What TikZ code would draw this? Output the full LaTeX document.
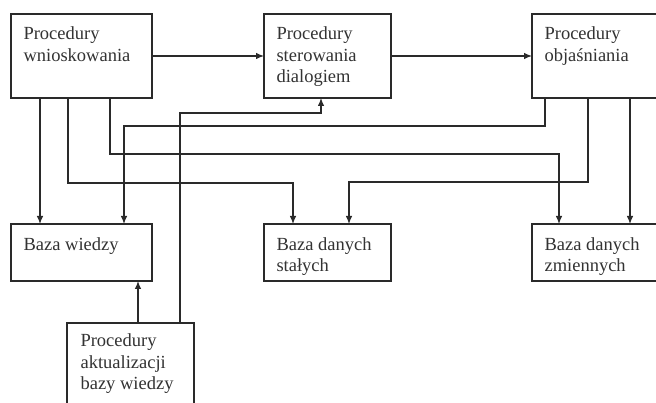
\documentclass[tikz,border=0pt]{standalone}
\usepackage{fontspec}
\setmainfont{Liberation Serif}
\usetikzlibrary{arrows.meta}
\definecolor{ink}{HTML}{2A2A2A}
\definecolor{txt}{HTML}{333333}
\begin{document}
\begin{tikzpicture}[x=1pt,y=-1pt,
  line width=1.1pt, draw=ink,
  boxnode/.style={draw=ink, rectangle, anchor=north west, inner sep=0pt, outer sep=0pt},
  lbl/.style={anchor=north west, inner sep=0pt, align=left, text=txt,
    font=\fontsize{18.5}{21.5}\selectfont},
  arr/.style={draw=ink, -{Latex[length=8pt,width=6.5pt]}}]
\useasboundingbox (0,0) rectangle (656,403);
\clip (0,0) rectangle (656,403);
\fill[white] (0,0) rectangle (656,403);
% boxes
\node[boxnode, minimum width=141pt, minimum height=84pt] (b1) at (11,14) {};
\node[boxnode, minimum width=127pt, minimum height=84pt] (b2) at (264,14) {};
\node[boxnode, minimum width=141pt, minimum height=84pt] (b3) at (532,14) {};
\node[boxnode, minimum width=141pt, minimum height=57pt] (b4) at (11,224) {};
\node[boxnode, minimum width=127pt, minimum height=57pt] (b5) at (264,224) {};
\node[boxnode, minimum width=141pt, minimum height=57pt] (b6) at (532,224) {};
\node[boxnode, minimum width=127pt, minimum height=84pt] (b7) at (67,323) {};
% labels
\node[lbl] (t1) at ([xshift=12pt,yshift=-12.5pt]b1.north west) {Procedury\\wnioskowania};
\node[lbl] (t2) at ([xshift=12pt,yshift=-12.5pt]b2.north west) {Procedury\\sterowania\\dialogiem};
\node[lbl] (t3) at ([xshift=12pt,yshift=-12.5pt]b3.north west) {Procedury\\objaśniania};
\node[lbl] (t4) at ([xshift=12pt,yshift=-13pt]b4.north west) {Baza wiedzy};
\node[lbl] (t5) at ([xshift=12pt,yshift=-13pt]b5.north west) {Baza danych\\stałych};
\node[lbl] (t6) at ([xshift=12pt,yshift=-13pt]b6.north west) {Baza danych\\zmiennych};
\node[lbl] (t7) at ([xshift=13pt,yshift=-10.5pt]b7.north west) {Procedury\\aktualizacji\\bazy wiedzy};
% connectors
\draw[arr] (b1.east) -- (b2.west);
\draw[arr] (b2.east) -- (b3.west);
\draw[arr] ([xshift=29pt]b1.south west) -- ([xshift=29pt]b4.north west);
\draw[arr] ([xshift=57pt]b1.south west) -- ++(0,85) -| ([xshift=29pt]b5.north west);
\draw[arr] ([xshift=99pt]b1.south west) -- ++(0,56) -| ([xshift=27pt]b6.north west);
\draw[arr] ([xshift=13pt]b3.south west) -- ++(0,28) -| ([xshift=113pt]b4.north west);
\draw[arr] ([xshift=56pt]b3.south west) -- ++(0,84) -| ([xshift=85pt]b5.north west);
\draw[arr] ([xshift=98pt]b3.south west) -- ([xshift=98pt]b6.north west);
\draw[arr] ([xshift=113pt]b7.north west) -- ++(0,-210) -| ([xshift=57pt]b2.south west);
\draw[arr] ([xshift=71pt]b7.north west) -- ([xshift=127pt]b4.south west);
\end{tikzpicture}
\end{document}
